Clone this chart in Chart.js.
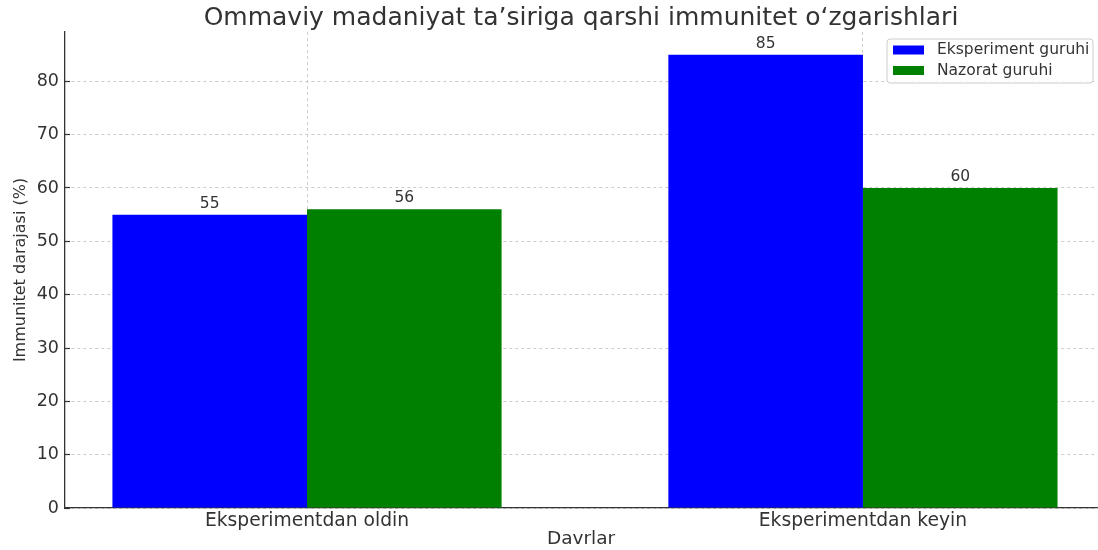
<!DOCTYPE html>
<html>
<head>
<meta charset="utf-8">
<script src="https://cdn.jsdelivr.net/npm/chart.js@4.4.0/dist/chart.umd.min.js"></script>
<style>
  html, body { margin: 0; padding: 0; background: #fff; }
</style>
</head>
<body>
<canvas id="myChart" width="1098" height="550"></canvas>
<script>
'use strict';
// data
const categories = ['Eksperimentdan oldin', 'Eksperimentdan keyin'];
const categoryPositions = [0, 1];
const eksperimentValues = [55, 85];
const nazoratValues = [56, 60];
const seriesNames = ['Eksperiment guruhi', 'Nazorat guruhi'];
const yTicks = [0, 10, 20, 30, 40, 50, 60, 70, 80];

const textColor = '#333333';
const gridColor = 'rgba(175,175,175,0.8)';
const fontFamily = 'DejaVu Sans';

const toPoints = (values) => values.map((v, i) => ({ x: categoryPositions[i], y: v }));

// numbers above bars + legend box inside the plot
const extras = {
	id: 'extras',
	afterDraw(chart) {
		const ctx = chart.ctx;
		ctx.save();
		ctx.font = `15.5px "${fontFamily}"`;
		ctx.fillStyle = textColor;
		ctx.textAlign = 'center';
		ctx.textBaseline = 'alphabetic';
		chart.data.datasets.forEach((ds, di) => {
			chart.getDatasetMeta(di).data.forEach((bar, i) => {
				ctx.fillText(String(ds.data[i].y), bar.x, bar.y - 7);
			});
		});

		// legend
		const area = chart.chartArea;
		const bx = area.right - 210;
		const by = area.top + 7;
		const bw = 206;
		const bh = 44;
		ctx.beginPath();
		ctx.roundRect(bx, by, bw, bh, 3);
		ctx.fillStyle = 'rgba(255,255,255,0.85)';
		ctx.fill();
		ctx.strokeStyle = '#cccccc';
		ctx.lineWidth = 1;
		ctx.stroke();
		ctx.font = `15.5px "${fontFamily}"`;
		ctx.textAlign = 'left';
		ctx.textBaseline = 'middle';
		chart.data.datasets.forEach((ds, di) => {
			const rowY = by + 11 + di * 20.5;
			ctx.fillStyle = ds.backgroundColor;
			ctx.fillRect(bx + 6, rowY - 4.5, 31, 9);
			ctx.fillStyle = textColor;
			ctx.fillText(ds.label, bx + 50, rowY);
		});
		ctx.restore();
	},
};

const ctx = document.getElementById('myChart');

const chart = new Chart(ctx, {
	type: 'bar',
	data: {
		datasets: [
			{
				label: seriesNames[0],
				data: toPoints(eksperimentValues),
				backgroundColor: '#0000ff',
				borderWidth: 0,
			},
			{
				label: seriesNames[1],
				data: toPoints(nazoratValues),
				backgroundColor: '#008000',
				borderWidth: 0,
			},
		],
	},
	options: {
		responsive: false,
		animation: false,
		devicePixelRatio: 1,
		layout: { padding: { left: 0, right: 1, top: 0, bottom: 0 } },
		datasets: {
			bar: { categoryPercentage: 0.7, barPercentage: 1.0 },
		},
		plugins: {
			legend: { display: false },
			tooltip: { enabled: false },
			title: {
				display: true,
				text: 'Ommaviy madaniyat ta\u2019siriga qarshi immunitet o\u2018zgarishlari',
				color: textColor,
				font: { family: fontFamily, size: 25, weight: 'normal', lineHeight: 1.0 },
				padding: { top: 6, bottom: 1 },
				fullSize: false,
			},
		},
		scales: {
			x: {
				type: 'linear',
				offset: false,
				min: -0.4353,
				max: 1.421,
				z: 1,
				afterBuildTicks: (scale) => {
					scale.ticks = categoryPositions.map((v) => ({ value: v }));
				},
				afterFit: (scale) => {
					scale.height = 42;
				},
				ticks: {
					callback: (value, index) => categories[index],
					color: textColor,
					font: { family: fontFamily, size: 18.7, lineHeight: 1.1 },
					padding: 3,
					maxRotation: 0,
					autoSkip: false,
				},
				grid: {
					offset: false,
					color: gridColor,
					lineWidth: 0.8,
					drawTicks: false,
				},
				border: { display: true, color: textColor, width: 1.3, dash: [3, 3] },
				title: {
					display: true,
					text: 'Davrlar',
					color: textColor,
					font: { family: fontFamily, size: 18.5 },
					padding: { top: 0, bottom: 0 },
				},
			},
			y: {
				min: 0,
				max: 89.25,
				z: 1,
				afterBuildTicks: (scale) => {
					scale.ticks = yTicks.map((v) => ({ value: v }));
				},
				afterFit: (scale) => {
					scale.width = 65;
				},
				ticks: {
					color: textColor,
					font: { family: fontFamily, size: 17.5 },
					padding: 11,
				},
				grid: {
					color: gridColor,
					lineWidth: 0.8,
					tickColor: textColor,
					tickWidth: 1.2,
					tickLength: -5,
					tickBorderDash: [],
				},
				border: { display: true, color: textColor, width: 1.3, dash: [3, 3] },
				title: {
					display: true,
					text: 'Immunitet darajasi (%)',
					color: textColor,
					font: { family: fontFamily, size: 16 },
					padding: { top: 11, bottom: 0 },
				},
			},
		},
	},
	plugins: [extras],
});
</script>
</body>
</html>
